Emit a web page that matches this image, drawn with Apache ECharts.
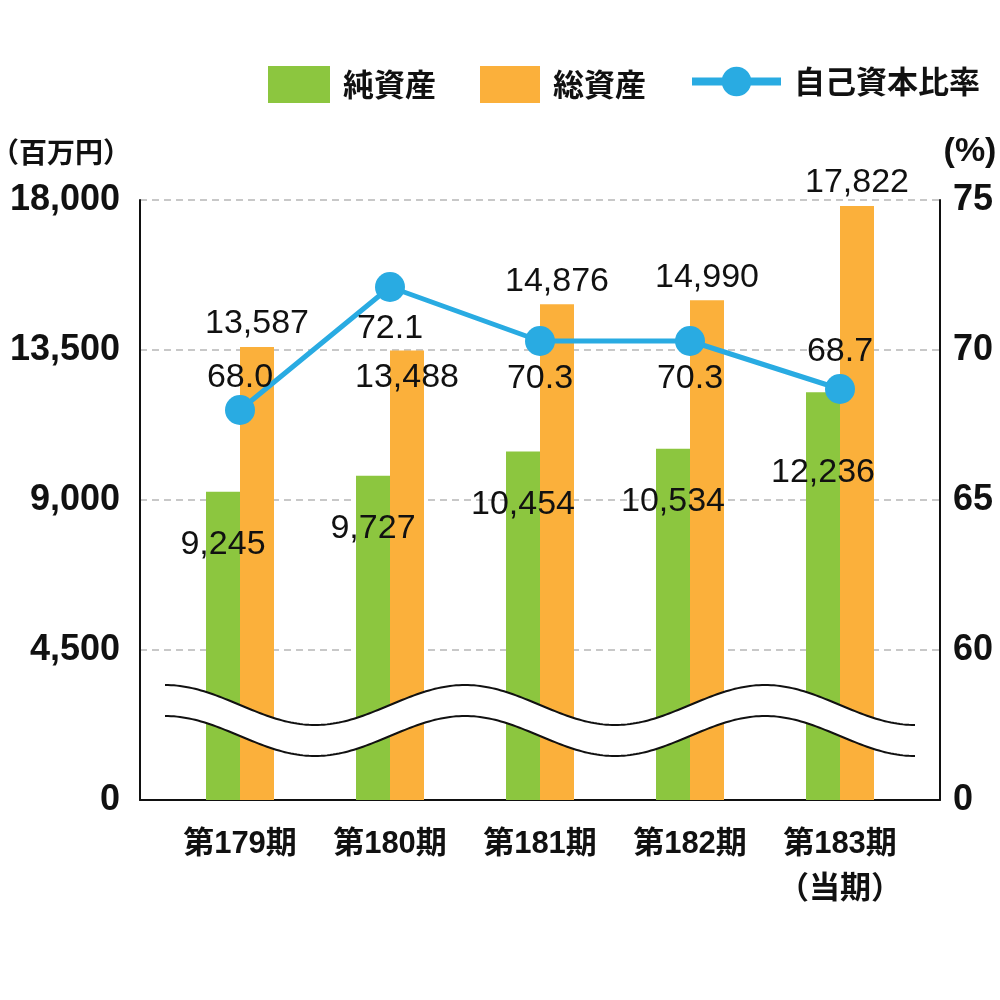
<!DOCTYPE html>
<html>
<head>
<meta charset="utf-8">
<script src="https://cdn.jsdelivr.net/npm/echarts@6/dist/echarts.min.js"></script>
<style>html,body{margin:0;padding:0;background:#fff;}#c{width:1000px;height:1000px;}</style>
</head>
<body>
<div id="c"></div>
<script>
// ---- data ----
const periods = ['第179期', '第180期', '第181期', '第182期', '第183期\n（当期）'];
const netAssets = [9245, 9727, 10454, 10534, 12236];      // 純資産 (百万円)
const totalAssets = [13587, 13488, 14876, 14990, 17822];  // 総資産 (百万円)
const equityRatio = [68.0, 72.1, 70.3, 70.3, 68.7];       // 自己資本比率 (%)
const seriesNames = ['純資産', '総資産', '自己資本比率'];
const ratioBreakLabel = { 55: '0' };                       // broken-axis bottom label

// ---- label placement (style only) ----
const netLabelDist = [36, 36, 36, 36, 63];
const totalLabelPos = ['top', 'insideTop', 'top', 'top', 'top'];
const totalLabelDist = [6, 10, 6, 6, 6];
const ratioLabelPos = ['top', 'bottom', 'bottom', 'bottom', 'top'];
const ratioLabelDist = [0, 10, 6, 6, 5];

const GREEN = '#8cc63f', ORANGE = '#fbb03b', BLUE = '#29abe2';
const numFont = "'Liberation Sans Narrow', 'Liberation Sans', Arial, sans-serif";
const boldFont = "'Liberation Sans', Arial, 'Noto Sans CJK JP', sans-serif";
const cjkFont = "'Noto Sans CJK JP', 'Noto Sans CJK SC', sans-serif";

const fmtComma = v => Number(v).toLocaleString('en-US');

// decorative axis-break wave
function wave(off) {
  const pts = [];
  for (let x = 165; x <= 915; x += 3) {
    pts.push([x, 705 + off - 20 * Math.cos(2 * Math.PI * (x - 165) / 300)]);
  }
  return pts;
}
const upper = wave(0), lower = wave(31);

const legendBase = {
  top: 66, itemHeight: 37, selectedMode: false, padding: 0,
  textStyle: { fontFamily: cjkFont, fontWeight: 'bold', fontSize: 31, color: '#111', padding: [0, 0, 0, 8] }
};

const chart = echarts.init(document.getElementById('c'), null, { renderer: 'canvas' });
chart.setOption({
  animation: false,
  backgroundColor: '#fff',
  grid: { left: 140, right: 60, top: 200, bottom: 200, containLabel: false },
  legend: [
    Object.assign({}, legendBase, { data: [{ name: seriesNames[0], icon: 'rect' }], left: 268, itemWidth: 62 }),
    Object.assign({}, legendBase, { data: [{ name: seriesNames[1], icon: 'rect' }], left: 480, itemWidth: 60 }),
    Object.assign({}, legendBase, { data: [seriesNames[2]], left: 688, itemWidth: 89, lineStyle: { width: 8 } })
  ],
  xAxis: {
    type: 'value',
    min: -2 / 3, max: 14 / 3,
    splitLine: { show: false },
    axisTick: { show: false },
    axisLine: { show: true, onZero: false, lineStyle: { color: '#111', width: 2 } },
    axisLabel: {
      customValues: [0, 1, 2, 3, 4],
      formatter: v => periods[Math.round(v)],
      margin: 22,
      fontFamily: boldFont, fontWeight: 'bold', fontSize: 31, color: '#111',
      lineHeight: 45
    }
  },
  yAxis: [
    {
      type: 'value', min: 0, max: 18000, interval: 4500, position: 'left',
      axisLine: { show: true, onZero: false, lineStyle: { color: '#111', width: 2 } },
      axisTick: { show: false },
      splitLine: { show: true, lineStyle: { type: [7, 5], color: '#c8c8c8', width: 2 } },
      axisLabel: { margin: 20, formatter: fmtComma, fontFamily: boldFont, fontWeight: 'bold', fontSize: 36, color: '#111' }
    },
    {
      type: 'value', min: 55, max: 75, interval: 5, position: 'right',
      axisLine: { show: true, onZero: false, lineStyle: { color: '#111', width: 2 } },
      axisTick: { show: false },
      splitLine: { show: false },
      axisLabel: {
        margin: 13,
        formatter: v => (ratioBreakLabel[v] !== undefined ? ratioBreakLabel[v] : String(v)),
        fontFamily: boldFont, fontWeight: 'bold', fontSize: 36, color: '#111'
      }
    }
  ],
  series: [
    {
      name: seriesNames[0], type: 'bar', xAxisIndex: 0, yAxisIndex: 0,
      barWidth: 34, barGap: '0%',
      itemStyle: { color: GREEN },
      data: netAssets.map((v, i) => ({
        value: [i, v],
        label: { show: true, position: 'insideTop', distance: netLabelDist[i] }
      })),
      label: {
        show: true, color: '#111', fontFamily: numFont, fontSize: 34,
        formatter: p => fmtComma(p.value[1])
      },
      z: 2
    },
    {
      name: seriesNames[1], type: 'bar', xAxisIndex: 0, yAxisIndex: 0,
      barWidth: 34, barGap: '0%',
      itemStyle: { color: ORANGE },
      data: totalAssets.map((v, i) => ({
        value: [i, v],
        label: { show: true, position: totalLabelPos[i], distance: totalLabelDist[i] }
      })),
      label: {
        show: true, color: '#111', fontFamily: numFont, fontSize: 34,
        formatter: p => fmtComma(p.value[1])
      },
      z: 2
    },
    {
      name: seriesNames[2], type: 'line', xAxisIndex: 0, yAxisIndex: 1,
      symbol: 'circle', symbolSize: 30,
      lineStyle: { color: BLUE, width: 5 },
      itemStyle: { color: BLUE },
      data: equityRatio.map((v, i) => ({
        value: [i, v],
        label: { show: true, position: ratioLabelPos[i], distance: ratioLabelDist[i] }
      })),
      label: {
        show: true, color: '#111', fontFamily: numFont, fontSize: 34,
        formatter: p => p.value[1].toFixed(1)
      },
      z: 4
    }
  ],
  graphic: [
    { type: 'polygon', z: 10, silent: true, shape: { points: upper.concat(lower.slice().reverse()) }, style: { fill: '#fff', stroke: null } },
    { type: 'polyline', z: 11, silent: true, shape: { points: upper }, style: { stroke: '#111', lineWidth: 2, fill: null } },
    { type: 'polyline', z: 11, silent: true, shape: { points: lower }, style: { stroke: '#111', lineWidth: 2, fill: null } },
    { type: 'text', z: 12, x: -9, y: 152, style: { text: '（百万円）', fill: '#111', font: "bold 28px 'Noto Sans CJK JP', sans-serif", textAlign: 'left', textVerticalAlign: 'middle' } },
    { type: 'text', z: 12, x: 970, y: 152, style: { text: '(%)', fill: '#111', font: "bold 34px 'Liberation Sans', 'Noto Sans CJK JP', sans-serif", textAlign: 'center', textVerticalAlign: 'middle' } }
  ]
});
</script>
</body>
</html>
